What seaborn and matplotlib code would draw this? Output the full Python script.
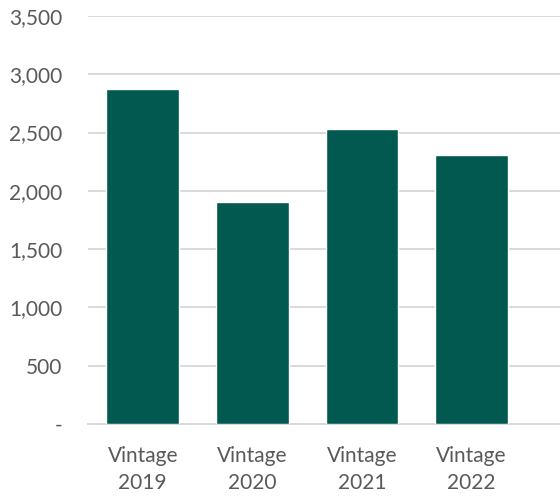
import matplotlib
matplotlib.use("Agg")
import matplotlib.pyplot as plt
import matplotlib.ticker as mticker
import numpy as np
import pandas as pd
import seaborn as sns

# ---- data ---------------------------------------------------------------
vintages = ["Vintage\n2019", "Vintage\n2020", "Vintage\n2021", "Vintage\n2022"]
values = [2870, 1905, 2532, 2308]
y_ticks = [0, 500, 1000, 1500, 2000, 2500, 3000, 3500]

df = pd.DataFrame({"vintage": vintages, "value": values})

sns.set_theme(style="white")
plt.rcParams["font.family"] = ["Lato", "DejaVu Sans"]

fig = plt.figure(figsize=(5.6, 4.98), dpi=100)
ax = fig.add_axes([0.157, 0.1486, 0.843, 0.8194])

sns.barplot(data=df, x="vintage", y="value", color="#02594F",
            saturation=1, width=0.665, ax=ax, zorder=3)

ax.set_ylim(0, 3500)
ax.set_xlim(-0.5, 3.806)
ax.set_yticks(y_ticks)
ax.yaxis.set_major_formatter(
    mticker.FuncFormatter(lambda v, _: "-" if v == 0 else f"{int(v):,}")
)
ax.grid(axis="y", color="#D9D9D9", lw=1.4, zorder=0)
ax.set_axisbelow(True)

for side in ["top", "right", "left"]:
    ax.spines[side].set_visible(False)
ax.spines["bottom"].set_color("#D9D9D9")
ax.spines["bottom"].set_linewidth(1.4)

ax.tick_params(axis="y", length=0, pad=18.5, labelsize=15, labelcolor="#595959")
ax.tick_params(axis="x", length=0, pad=16, labelsize=15, labelcolor="#595959")
for lbl in ax.get_xticklabels():
    lbl.set_linespacing(1.45)
ax.set_xlabel("")
ax.set_ylabel("")

fig.savefig("out.png", dpi=100)
